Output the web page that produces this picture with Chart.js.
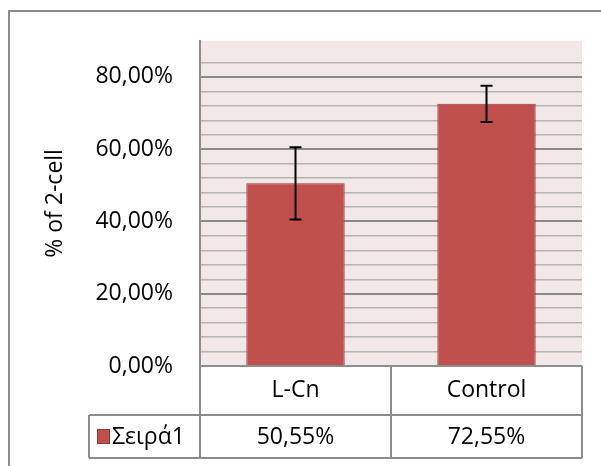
<!DOCTYPE html>
<html>
<head>
<meta charset="utf-8">
<script src="https://cdn.jsdelivr.net/npm/chart.js@4"></script>
<style>
  body { margin: 0; background: #fff; }
  #wrap { width: 601px; height: 466px; position: relative; }
</style>
</head>
<body>
<div id="wrap"><canvas id="myChart" width="601" height="466"></canvas></div>
<script>
const categorias = ['L-Cn', 'Control'];
const valores = [0.5055, 0.7255];
const erros = [0.10, 0.05];
const nomeSerie = 'Σειρά1';
const tituloY = '% of 2-cell';

const fonte = '"Open Sans", "Liberation Sans", sans-serif';
const corBarra = '#C0504D';
const corBordaBarra = '#8C3A38';

function formatoPct(v) {
  return (v * 100).toFixed(2).replace('.', ',') + '%';
}

// fundo, moldura e tabela de dados
const tabelaPlugin = {
  id: 'tabela',
  beforeDraw(chart) {
    const ctx = chart.ctx;
    const a = chart.chartArea;
    ctx.save();
    ctx.fillStyle = '#F2E8E8';
    ctx.fillRect(a.left, a.top, a.right - a.left, a.bottom - a.top);
    ctx.strokeStyle = '#8C8C8C';
    ctx.lineWidth = 2;
    ctx.strokeRect(9, 11, 800, 800);
    ctx.restore();
  },
  afterDraw(chart) {
    const ctx = chart.ctx;
    const a = chart.chartArea;
    const x = chart.scales.x;
    const y1 = a.bottom, y2 = a.bottom + 49, y3 = a.bottom + 92;
    const xLeg = a.left - 111;
    const divisoes = [a.left];
    for (let i = 0; i < categorias.length - 1; i++) {
      divisoes.push((x.getPixelForValue(i) + x.getPixelForValue(i + 1)) / 2);
    }
    divisoes.push(a.right);

    ctx.save();
    ctx.strokeStyle = '#8C8C8C';
    ctx.lineWidth = 2;
    ctx.beginPath();
    ctx.moveTo(a.left, y1); ctx.lineTo(a.right, y1);
    ctx.moveTo(xLeg, y2); ctx.lineTo(a.right, y2);
    ctx.moveTo(xLeg, y3); ctx.lineTo(a.right, y3);
    ctx.moveTo(xLeg, y2); ctx.lineTo(xLeg, y3);
    divisoes.forEach(d => { ctx.moveTo(d, y1); ctx.lineTo(d, y3); });
    ctx.stroke();

    ctx.fillStyle = '#000';
    ctx.font = '23px ' + fonte;
    ctx.textAlign = 'center';
    ctx.textBaseline = 'middle';
    for (let i = 0; i < categorias.length; i++) {
      const cx = (divisoes[i] + divisoes[i + 1]) / 2;
      ctx.fillText(categorias[i], cx, (y1 + y2) / 2);
      ctx.fillText(formatoPct(valores[i]), cx, (y2 + y3) / 2 + 1);
    }
    // legenda
    ctx.fillStyle = corBarra;
    ctx.strokeStyle = corBordaBarra;
    ctx.lineWidth = 1;
    ctx.fillRect(xLeg + 8, y2 + 14, 12, 14);
    ctx.strokeRect(xLeg + 8.5, y2 + 14.5, 12, 14);
    ctx.fillStyle = '#000';
    ctx.textAlign = 'left';
    ctx.fillText(nomeSerie, xLeg + 23, (y2 + y3) / 2 + 1);
    ctx.restore();
  }
};

// barras de erro
const errosPlugin = {
  id: 'erros',
  afterDatasetsDraw(chart) {
    const ctx = chart.ctx;
    const x = chart.scales.x, y = chart.scales.y;
    ctx.save();
    ctx.strokeStyle = '#000';
    ctx.lineWidth = 2;
    for (let i = 0; i < valores.length; i++) {
      const px = x.getPixelForValue(i);
      const top = y.getPixelForValue(valores[i] + erros[i]);
      const bot = y.getPixelForValue(valores[i] - erros[i]);
      ctx.beginPath();
      ctx.moveTo(px, top); ctx.lineTo(px, bot);
      ctx.moveTo(px - 6, top); ctx.lineTo(px + 6, top);
      ctx.moveTo(px - 6, bot); ctx.lineTo(px + 6, bot);
      ctx.stroke();
    }
    ctx.restore();
  }
};

const config = {
  type: 'bar',
  data: {
    labels: categorias,
    datasets: [{
      label: nomeSerie,
      data: valores,
      backgroundColor: corBarra,
      borderColor: corBordaBarra,
      borderWidth: 1,
      categoryPercentage: 1,
      barPercentage: 0.515,
    }]
  },
  options: {
    responsive: false,
    animation: false,
    layout: { padding: { top: 40, right: 19, bottom: 100, left: 0 } },
    plugins: { legend: { display: false }, tooltip: { enabled: false } },
    scales: {
      x: { display: false },
      y: {
        min: 0,
        max: 0.9,
        afterFit(scale) { scale.width = 200; },
        border: { display: true, color: '#8C8C8C', width: 2 },
        grid: {
          drawTicks: false,
          color: ctx => {
            const v = Math.round(ctx.tick.value * 100);
            if (v === 90 || v === 0) return 'rgba(0,0,0,0)';
            return v % 20 === 0 ? '#8A8A8A' : '#B4B4B4';
          },
          lineWidth: ctx => (Math.round(ctx.tick.value * 100) % 20 === 0 ? 2 : 1.5),
        },
        ticks: {
          stepSize: 0.04,
          autoSkip: false,
          padding: 27,
          color: '#000',
          font: { family: fonte, size: 23 },
          callback: v => (Math.round(v * 100) % 20 === 0 ? formatoPct(v) : ''),
        },
        title: {
          display: true,
          text: tituloY,
          color: '#000',
          font: { family: fonte, size: 23 },
          padding: { top: 42, bottom: 0 },
        }
      }
    }
  },
  plugins: [tabelaPlugin, errosPlugin]
};

var grafico = new Chart(document.getElementById('myChart'), config);
</script>
</body>
</html>
